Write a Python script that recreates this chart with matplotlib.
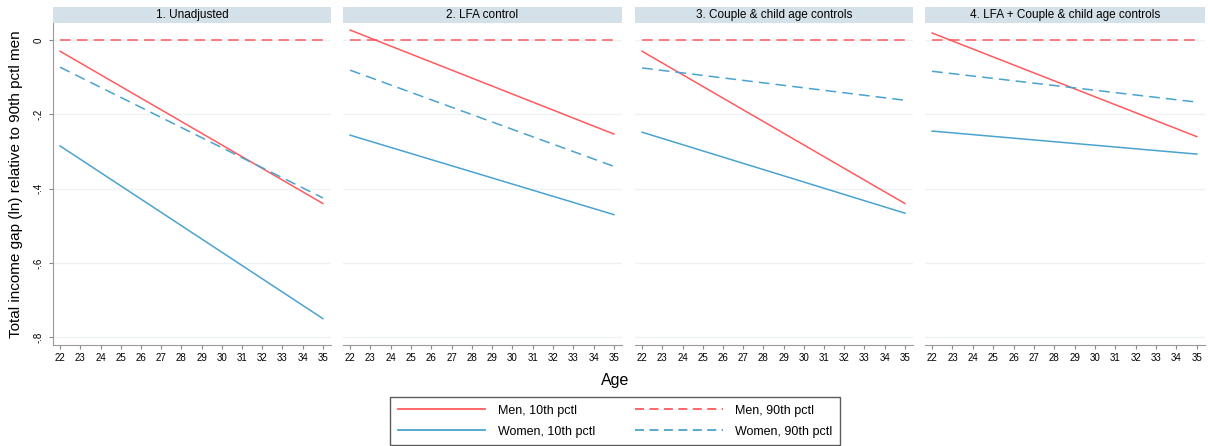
import numpy as np
import matplotlib.pyplot as plt
from matplotlib.patches import Rectangle
from matplotlib.lines import Line2D

plt.rcParams['font.family'] = ['Liberation Sans', 'DejaVu Sans']

# data: straight fitted lines, values at age 22 and age 35
ages = [22, 35]
panels = ["1. Unadjusted", "2. LFA control", "3. Couple & child age controls",
          "4. LFA + Couple & child age controls"]
men_p10 = [[-0.03, -0.44], [0.027, -0.253], [-0.03, -0.44], [0.019, -0.26]]
men_p90 = [[0.0, 0.0], [0.0, 0.0], [0.0, 0.0], [0.0, 0.0]]
women_p10 = [[-0.285, -0.75], [-0.256, -0.47], [-0.248, -0.466], [-0.245, -0.307]]
women_p90 = [[-0.073, -0.425], [-0.081, -0.34], [-0.075, -0.162], [-0.084, -0.167]]
yticks = [0, -0.2, -0.4, -0.6, -0.8]
ytick_labels = ["0", "-.2", "-.4", "-.6", "-.8"]

red = '#ff5a5f'
blue = '#4aa3cf'

fig = plt.figure(figsize=(12.08, 4.46), dpi=100)
lefts = [53, 343, 635, 925]
rights = [331, 622, 913, 1205]
W, H = 1208, 446
top, bottom = 23, 345

for i in range(4):
    ax = fig.add_axes([lefts[i] / W, 1 - bottom / H, (rights[i] - lefts[i]) / W, (bottom - top) / H])
    ax.plot(ages, men_p10[i], color=red, lw=1.1)
    ax.plot(ages, men_p90[i], color=red, lw=1.1, ls=(0, (7, 4)))
    ax.plot(ages, women_p10[i], color=blue, lw=1.1)
    ax.plot(ages, women_p90[i], color=blue, lw=1.1, ls=(0, (7, 4)))
    ax.set_xlim(21.65, 35.4)
    ax.set_ylim(-0.821, 0.046)
    ax.set_xticks(range(22, 36))
    ax.tick_params(axis='x', labelsize=7, length=3, color='#888888', pad=3)
    ax.set_yticks(yticks)
    ax.grid(axis='y', color='#eef2f2', lw=1)
    ax.set_axisbelow(True)
    for s in ['top', 'right']:
        ax.spines[s].set_visible(False)
    ax.spines['bottom'].set_color('#999999')
    if i == 0:
        ax.set_yticklabels(ytick_labels, rotation=90, va='center')
        ax.tick_params(axis='y', labelsize=7, length=3, color='#888888')
        ax.spines['left'].set_color('#999999')
        ax.set_ylabel("Total income gap (ln) relative to 90th pctl men", fontsize=11, labelpad=8)
    else:
        ax.spines['left'].set_visible(False)
        ax.tick_params(axis='y', left=False, labelleft=False)
    # header strip
    ax.add_patch(Rectangle((0, 1.0), 1, 16 / (bottom - top), transform=ax.transAxes,
                           facecolor='#d5e1e8', edgecolor='none', clip_on=False))
    ax.text(0.5, 1.0 + 8 / (bottom - top), panels[i], transform=ax.transAxes,
            ha='center', va='center', fontsize=8.5)

fig.text(615 / W, 1 - 380 / H, "Age", ha='center', va='center', fontsize=11.5)

handles = [Line2D([], [], color=red, lw=1.3),
           Line2D([], [], color=blue, lw=1.3),
           Line2D([], [], color=red, lw=1.3, ls=(0, (5, 3))),
           Line2D([], [], color=blue, lw=1.3, ls=(0, (5, 3)))]
labels = ["Men, 10th pctl", "Women, 10th pctl", "Men, 90th pctl", "Women, 90th pctl"]
fig.legend(handles, labels, ncol=2, loc='upper center', bbox_to_anchor=(615 / W, 1 - 391 / H),
           fontsize=9, frameon=True, fancybox=False, edgecolor='#333333',
           handlelength=7, columnspacing=3.2, handletextpad=1.0, borderpad=0.6,
           labelspacing=0.7)

fig.savefig("out.png", dpi=100)
